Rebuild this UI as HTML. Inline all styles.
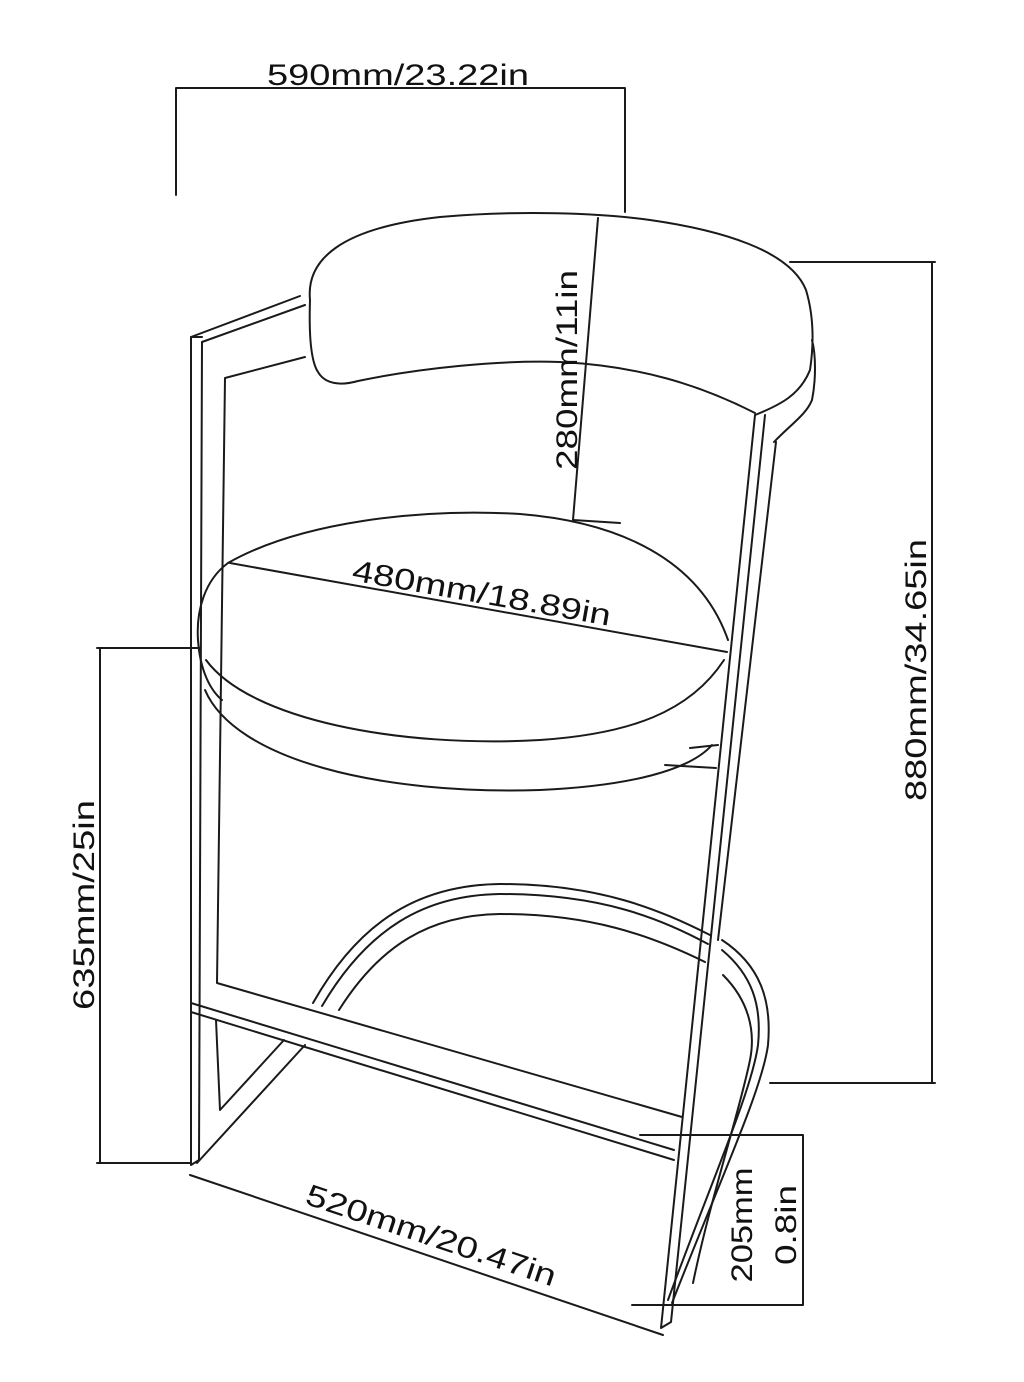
<!DOCTYPE html>
<html><head><meta charset="utf-8"><style>
html,body{margin:0;padding:0;background:#fff;}
svg{display:block}
text{font-family:"Liberation Sans",sans-serif;font-size:30px;fill:#111}
</style></head><body>
<svg width="1024" height="1382" viewBox="0 0 1024 1382" xmlns="http://www.w3.org/2000/svg">
<g fill="none" stroke="#1a1a1a" stroke-width="2" stroke-linejoin="round" stroke-linecap="round">
<!-- top dimension -->
<path d="M176,88 H625 M176,88 V195 M625,88 V212"/>
<!-- right dim 880 -->
<path d="M790,262 H935 M770,1083 H935 M932,262 V1083"/>
<!-- left dim 635 -->
<path d="M97,648 H200 M97,1163 H190 M100,648 V1163"/>
<!-- 205 dim -->
<path d="M640,1135 H803 M632,1305 H803 M803,1135 V1305"/>
<!-- 520 dim -->
<path d="M190,1175 L663,1335"/>
<!-- backrest -->
<path d="M310,300 C306,260 340,228 440,217 C520,210 600,213 650,220 C720,230 790,250 806,290 C815,320 813,350 810,370 C800,395 780,405 755,415"/>
<path d="M310,300 C309,330 310,360 318,372 C325,384 340,386 358,381 C420,368 500,360 560,362 C640,366 700,385 755,413"/>
<path d="M812,340 C816,355 816,380 812,400 C806,415 790,425 774,442"/>
<!-- left frame -->
<path d="M191,337 L300,296 M202,342 L305,305 M191,337 H202"/>
<path d="M191,337 V1165 M202,342 L199,1160 M191,1165 L199,1160"/>
<path d="M305,357 L225,378 L217,983 L682,1117"/>
<path d="M191,1003 L674,1150 M191,1012 L674,1160"/>
<path d="M216,1020 L220,1110 L284,1040 M197,1163 L305,1045"/>
<!-- right post -->
<path d="M755,415 L661,1328 M765,415 L671,1322 M661,1328 L671,1322"/>
<path d="M776,442 L718,940"/>
<!-- hoop -->
<path d="M313,1003 C360,920 420,885 500,884 C600,884 660,910 710,935"/>
<path d="M322,1006 C368,928 425,895 500,894 C600,894 660,918 708,944"/>
<path d="M339,1010 C380,945 430,915 500,914 C590,914 650,935 705,962"/>
<path d="M722,940 C760,965 772,1000 768,1045 C762,1090 720,1180 672,1303"/>
<path d="M722,950 C752,975 762,1005 758,1045 C752,1090 712,1180 668,1300"/>
<path d="M723,975 C748,1000 756,1030 750,1060 C740,1110 710,1200 693,1283"/>
<!-- seat -->
<path d="M228,563 C300,522 420,508 520,514 C620,522 700,560 728,640"/>
<path d="M228,563 C205,580 196,610 198,640 C200,670 210,690 222,700"/>
<path d="M206,660 C250,720 400,748 540,740 C630,734 690,712 724,660"/>
<path d="M205,690 C235,760 380,795 540,790 C630,786 690,770 712,745"/>
<path d="M690,748 L718,745 M665,765 L716,768"/>
<path d="M230,563 L727,652"/>
<!-- 280 line -->
<path d="M598,218 L573,520 L620,523"/>
</g>
<text x="398" y="85" text-anchor="middle" textLength="262" lengthAdjust="spacingAndGlyphs">590mm/23.22in</text>
<text transform="translate(577,370) rotate(-90)" text-anchor="middle" textLength="200" lengthAdjust="spacingAndGlyphs">280mm/11in</text>
<text transform="translate(480,603) rotate(10)" text-anchor="middle" textLength="262" lengthAdjust="spacingAndGlyphs">480mm/18.89in</text>
<text transform="translate(926,670) rotate(-90)" text-anchor="middle" textLength="262" lengthAdjust="spacingAndGlyphs">880mm/34.65in</text>
<text transform="translate(94,905) rotate(-90)" text-anchor="middle" textLength="210" lengthAdjust="spacingAndGlyphs">635mm/25in</text>
<text transform="translate(428,1245) rotate(18.5)" text-anchor="middle" textLength="262" lengthAdjust="spacingAndGlyphs">520mm/20.47in</text>
<text transform="translate(752,1225) rotate(-90)" text-anchor="middle" textLength="115" lengthAdjust="spacingAndGlyphs">205mm</text>
<text transform="translate(796,1225) rotate(-90)" text-anchor="middle" textLength="80" lengthAdjust="spacingAndGlyphs">0.8in</text>
</svg>
</body></html>
